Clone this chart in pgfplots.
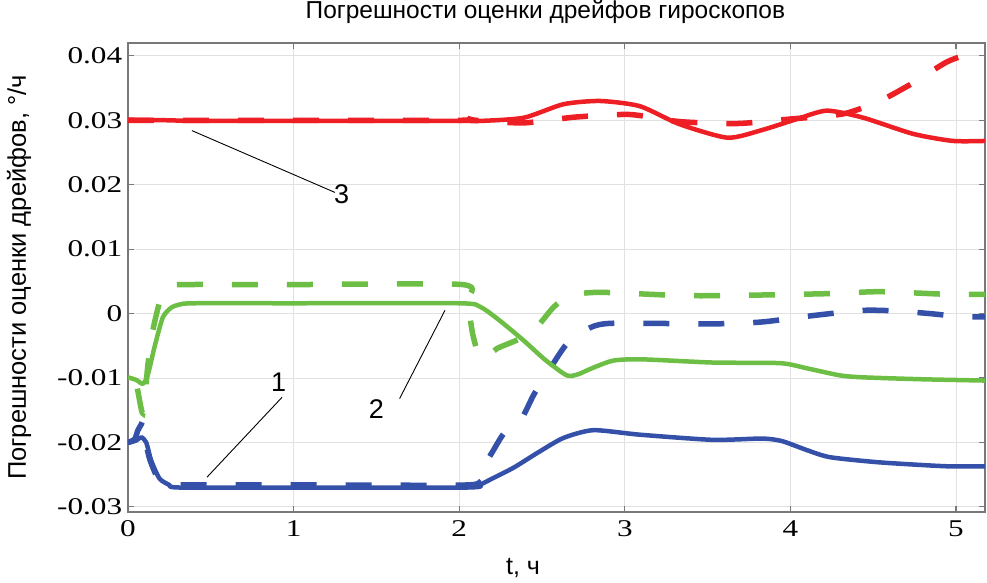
\documentclass[border=0pt]{standalone}
\usepackage{pgfplots}
\pgfplotsset{compat=1.18}
\usepackage{fontspec}
\setmainfont{Liberation Serif}
\newfontfamily\sansfont{Liberation Sans}

\definecolor{cRed}{RGB}{237,30,36}
\definecolor{cGreen}{RGB}{108,190,68}
\definecolor{cBlue}{RGB}{52,80,168}
\definecolor{cAxis}{RGB}{120,120,120}
\definecolor{cGrid}{RGB}{225,225,225}

\begin{document}
\begin{tikzpicture}
\begin{axis}[
  scale only axis,
  width=857pt, height=469pt,
  xmin=0, xmax=5.175,
  ymin=-0.0308, ymax=0.042,
  xtick={0,1,2,3,4,5},
  xticklabels={0,1,2,3,4,5},
  ytick={-0.03,-0.02,-0.01,0,0.01,0.02,0.03,0.04},
  yticklabels={-0.03,-0.02,-0.01,0,0.01,0.02,0.03,0.04},
  scaled y ticks=false,
  tick align=inside,
  xtick pos=both, ytick pos=both,
  major tick length=6pt,
  tick style={cAxis, line width=1.2pt},
  axis line style={cAxis, line width=1.6pt},
  grid=major,
  major grid style={cGrid, line width=0.9pt},
  ticklabel style={font=\fontsize{24}{28}\selectfont, xscale=1.3},
  xticklabel style={yshift=-5pt},
  yticklabel style={xshift=-1pt},
  title={\sansfont\fontsize{24.5}{28}\selectfont Погрешности оценки дрейфов гироскопов},
  title style={at={(axis description cs:0.487,1.053)}, anchor=center},
  xlabel={\sansfont\fontsize{25}{29}\selectfont t, ч},
  xlabel style={at={(axis description cs:0.461,-0.119)}, anchor=center},
  ylabel={\sansfont\fontsize{25.5}{29}\selectfont Погрешности оценки дрейфов, °/ч},
  ylabel style={at={(axis description cs:-0.127,0.5)}, anchor=center},
  clip=true,
]
% gyro 1
\addplot[cBlue, line width=4.5pt, line join=round, smooth, tension=0.4] coordinates {
 (0,-0.0201) (0.05,-0.0197) (0.08,-0.0192) (0.11,-0.0200) (0.14,-0.0228)
 (0.19,-0.0256) (0.25,-0.0266) (0.31,-0.0270) (1.0,-0.0270) (2.05,-0.0270)
 (2.13,-0.0265) (2.2,-0.0256) (2.33,-0.0239) (2.48,-0.0215) (2.63,-0.0193)
 (2.81,-0.0181) (3.09,-0.0188) (3.53,-0.0196) (3.83,-0.0194) (3.95,-0.0198)
 (4.1,-0.0212) (4.24,-0.0223) (4.54,-0.0231) (4.94,-0.0237) (5.18,-0.0237)
};
\addplot[cBlue, line width=5.5pt, dash pattern=on 26pt off 29pt, smooth, tension=0.4] coordinates {
 (0,-0.0200) (0.04,-0.0195) (0.06,-0.0181) (0.08,-0.0172) (0.09,-0.0168)
 (0.1,-0.0190) (0.13,-0.0225) (0.18,-0.0255) (0.25,-0.0265) (0.35,-0.0266)
 (1.0,-0.0266) (2.05,-0.0266) (2.1,-0.0256) (2.14,-0.0240) (2.2,-0.0215)
 (2.27,-0.0186) (2.37,-0.0166) (2.45,-0.0126) (2.53,-0.0093) (2.65,-0.0047)
 (2.79,-0.0022) (2.93,-0.0015) (3.53,-0.0016) (3.83,-0.0013) (4.14,-0.0003)
 (4.44,0.0005) (4.64,0.0004) (4.84,0.0000) (5.04,-0.0005) (5.18,-0.0005)
};
% gyro 2
\addplot[cGreen, line width=4.5pt, line join=round, smooth, tension=0.4] coordinates {
 (0,-0.0099) (0.05,-0.0103) (0.09,-0.0109) (0.12,-0.0095) (0.16,-0.0052)
 (0.21,-0.0006) (0.26,0.0009) (0.31,0.0014) (0.4,0.0016) (1.0,0.0016)
 (2.0,0.0016) (2.13,0.0010) (2.25,-0.0012) (2.39,-0.0042) (2.52,-0.0072)
 (2.65,-0.0096) (2.72,-0.0094) (2.8,-0.0085) (2.93,-0.0073) (3.1,-0.0071)
 (3.53,-0.0076) (3.94,-0.0077) (4.1,-0.0085) (4.3,-0.0096) (4.44,-0.0099)
 (4.8,-0.0102) (5.18,-0.0104)
};
\addplot[cGreen, line width=5.5pt, dash pattern=on 26pt off 29pt, dash phase=40pt, smooth, tension=0.4] coordinates {
 (0,-0.0100) (0.05,-0.0110) (0.09,-0.0155) (0.12,-0.0080) (0.15,-0.0026)
 (0.2,0.0025) (0.26,0.0042) (0.32,0.0045) (1.0,0.0045) (2.02,0.0045)
 (2.05,0.0020) (2.08,-0.0030) (2.12,-0.0066) (2.17,-0.0068) (2.23,-0.0054)
 (2.43,-0.0031) (2.57,0.0010) (2.67,0.0028) (2.85,0.0033) (3.33,0.0028)
 (3.64,0.0028) (4.24,0.0031) (4.54,0.0034) (4.94,0.0030) (5.18,0.0030)
};
% gyro 3
\addplot[cRed, line width=4.5pt, line join=round, smooth, tension=0.4] coordinates {
 (0,0.0301) (0.25,0.0300) (0.4,0.0299) (1.0,0.0299) (2.0,0.0299)
 (2.13,0.0299) (2.39,0.0304) (2.63,0.0325) (2.85,0.0330) (3.09,0.0322)
 (3.33,0.0294) (3.62,0.0273) (3.83,0.0285) (4.04,0.0302) (4.22,0.0315)
 (4.44,0.0304) (4.74,0.0279) (4.98,0.0268) (5.18,0.0268)
};
\addplot[cRed, line width=5.5pt, dash pattern=on 26pt off 29pt, smooth, tension=0.4] coordinates {
 (0,0.0300) (1.0,0.0300) (2.0,0.0300) (2.05,0.0303) (2.1,0.0300)
 (2.39,0.0296) (2.7,0.0305) (3.03,0.0309) (3.33,0.0298) (3.68,0.0295)
 (4.0,0.0302) (4.32,0.0310) (4.54,0.0330) (4.74,0.0358) (4.94,0.0390)
 (5.05,0.0400) (5.18,0.0400)
};
% leader lines and curve numbers
\draw[black, line width=0.9pt] (axis cs:0.386,0.0284) -- (axis cs:1.25,0.0188);
\node[font=\sansfont\fontsize{27}{30}\selectfont] at (axis cs:1.29,0.0186) {3};
\draw[black, line width=0.9pt] (axis cs:0.93,-0.0130) -- (axis cs:0.477,-0.0254);
\node[font=\sansfont\fontsize{27}{30}\selectfont] at (axis cs:0.91,-0.0107) {1};
\draw[black, line width=0.9pt] (axis cs:1.64,-0.0132) -- (axis cs:1.914,0.0005);
\node[font=\sansfont\fontsize{27}{30}\selectfont] at (axis cs:1.50,-0.0149) {2};
\end{axis}
\pgfresetboundingbox
\path[use as bounding box] ([xshift=-128pt,yshift=-71pt]current axis.south west) rectangle ([xshift=2pt,yshift=43pt]current axis.north east);
\end{tikzpicture}
\end{document}
